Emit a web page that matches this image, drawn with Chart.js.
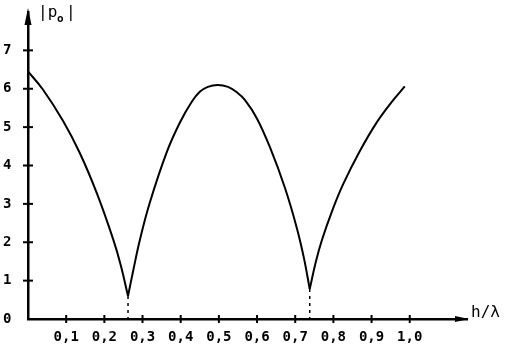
<!DOCTYPE html>
<html>
<head>
<meta charset="utf-8">
<script src="https://cdn.jsdelivr.net/npm/chart.js@4.4.1/dist/chart.umd.min.js"></script>
<style>
  html, body { margin: 0; padding: 0; background: #fff; }
  #wrap { width: 506px; height: 345px; }
</style>
</head>
<body>
<div id="wrap"><canvas id="PChart" width="506" height="345"></canvas></div>
<script>
// values
const xTicks = [0.1, 0.2, 0.3, 0.4, 0.5, 0.6, 0.7, 0.8, 0.9, 1.0];
const yTicks = [0, 1, 2, 3, 4, 5, 6, 7];

const branch1H = [0, 0.039, 0.092, 0.136, 0.181, 0.223, 0.243, 0.262];
const branch1P = [6.45, 5.98, 5.16, 4.32, 3.26, 2.08, 1.40, 0.60];

const branch2H = [0.262, 0.275, 0.293, 0.319, 0.364, 0.398, 0.429, 0.450, 0.471, 0.497, 0.524, 0.547, 0.568, 0.599, 0.634, 0.673, 0.704, 0.723, 0.738];
const branch2P = [0.60, 1.23, 2.06, 3.03, 4.36, 5.12, 5.66, 5.92, 6.05, 6.10, 6.05, 5.91, 5.71, 5.24, 4.47, 3.42, 2.38, 1.58, 0.78];

const branch3H = [0.738, 0.754, 0.770, 0.798, 0.825, 0.869, 0.914, 0.953, 0.987];
const branch3P = [0.78, 1.49, 2.06, 2.85, 3.50, 4.37, 5.13, 5.66, 6.06];

// the dashed drops from the two minima
const minimaH = [0.262, 0.738];
const minimaP = [0.60, 0.78];

function pts(xs, ys) {
    return xs.map((x, i) => ({x: x, y: ys[i]}));
}

function curve(xs, ys) {
    return {
        data: pts(xs, ys),
        borderColor: '#000',
        borderWidth: 2,
        pointRadius: 0,
        tension: 0.4,
        fill: false
    };
}

function drop(i) {
    return {
        data: [{x: minimaH[i], y: minimaP[i]}, {x: minimaH[i], y: 0}],
        borderColor: '#000',
        borderWidth: 1.5,
        borderDash: [3, 4],
        pointRadius: 0,
        fill: false
    };
}

const tickFont = {family: 'DejaVu Sans Mono', size: 14, weight: 'bold'};

const axesDecor = {
    id: 'axesDecor',
    afterDraw(chart) {
        const ctx = chart.ctx;
        const xs = chart.scales.x, ys = chart.scales.y;
        const x0 = xs.getPixelForValue(0);
        const y0 = ys.getPixelForValue(0);
        const xEnd = xs.getPixelForValue(xs.max);
        const yTop = ys.getPixelForValue(ys.max);
        ctx.save();
        ctx.fillStyle = '#000';
        ctx.strokeStyle = '#000';
        ctx.lineWidth = 2;
        // crossing tick marks
        yTicks.slice(1).forEach(v => {
            const y = ys.getPixelForValue(v);
            ctx.beginPath(); ctx.moveTo(x0 - 5, y); ctx.lineTo(x0 + 5, y); ctx.stroke();
        });
        xTicks.forEach(v => {
            const x = xs.getPixelForValue(v);
            ctx.beginPath(); ctx.moveTo(x, y0 - 4); ctx.lineTo(x, y0 + 4); ctx.stroke();
        });
        // arrow heads
        ctx.beginPath();
        ctx.moveTo(x0, yTop - 4); ctx.lineTo(x0 - 3.5, yTop + 13); ctx.lineTo(x0 + 3.5, yTop + 13);
        ctx.closePath(); ctx.fill();
        ctx.beginPath();
        ctx.moveTo(xEnd + 2, y0); ctx.lineTo(xEnd - 12, y0 - 3); ctx.lineTo(xEnd - 12, y0 + 3);
        ctx.closePath(); ctx.fill();
        // axis titles
        ctx.font = '16px "DejaVu Sans Mono"';
        ctx.textBaseline = 'alphabetic';
        ctx.textAlign = 'left';
        ctx.fillText('|p', 38, 17);
        ctx.font = 'bold 11px "DejaVu Sans Mono"';
        ctx.fillText('o', 57, 22);
        ctx.font = '16px "DejaVu Sans Mono"';
        ctx.fillText('|', 66, 17);
        ctx.fillText('h/\u03bb', xEnd + 4, y0 - 2);
        ctx.restore();
    }
};

document.addEventListener("DOMContentLoaded", function() {
    const ctx = document.getElementById('PChart').getContext('2d');
    new Chart(ctx, {
        type: 'line',
        data: {
            datasets: [
                curve(branch1H, branch1P),
                curve(branch2H, branch2P),
                curve(branch3H, branch3P),
                drop(0),
                drop(1)
            ]
        },
        options: {
            responsive: false,
            animation: false,
            layout: {padding: {left: 3, right: 39, top: 12, bottom: 0}},
            plugins: {
                legend: {display: false},
                tooltip: {enabled: false}
            },
            scales: {
                x: {
                    type: 'linear',
                    min: 0,
                    max: 1.15,
                    afterBuildTicks: s => { s.ticks = xTicks.map(v => ({value: v})); },
                    afterFit: s => { s.height = 26; },
                    grid: {display: false},
                    border: {display: true, color: '#000', width: 2.5},
                    ticks: {
                        color: '#000',
                        font: tickFont,
                        padding: 2,
                        maxRotation: 0,
                        autoSkip: false,
                        callback: v => v.toFixed(1).replace('.', ',')
                    }
                },
                y: {
                    min: 0,
                    max: 8,
                    afterBuildTicks: s => { s.ticks = yTicks.map(v => ({value: v})); },
                    afterFit: s => { s.width = 25; },
                    grid: {display: false},
                    border: {display: true, color: '#000', width: 2.5},
                    ticks: {
                        color: '#000',
                        font: tickFont,
                        crossAlign: 'far',
                        padding: 0,
                        callback: v => String(v)
                    }
                }
            }
        },
        plugins: [axesDecor]
    });
});
</script>
</body>
</html>
